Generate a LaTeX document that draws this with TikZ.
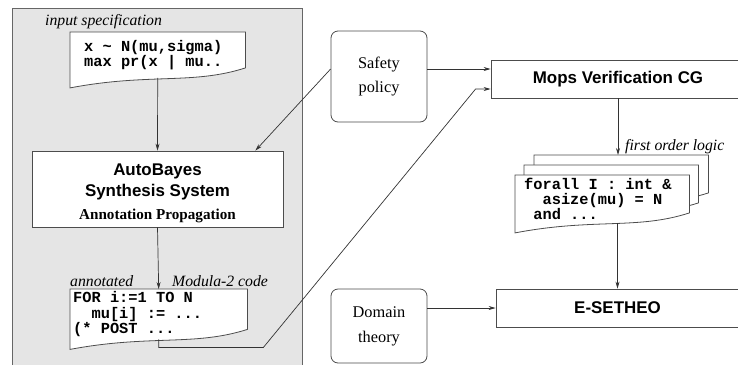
\documentclass[tikz,border=0pt]{standalone}
\usepackage{fontspec}
\setmainfont{Liberation Serif}
\setsansfont{Liberation Sans}
\setmonofont{Liberation Mono}
\usetikzlibrary{arrows.meta,calc}
\pgfdeclarelayer{panel}
\pgfdeclarelayer{paper}
\pgfsetlayers{panel,paper,main}
% one character wide gap in the code lines
\newcommand{\gap}{\phantom{x}}
\tikzset{
    box/.style={draw=black!70, line width=0.8bp, fill=white, inner sep=0pt},
    bigbox/.style={box, minimum height=38bp, font=\sffamily\bfseries\fontsize{17}{24}\selectfont},
    roundbox/.style={box, rounded corners=7bp, align=center, minimum width=96bp,
        font=\fontsize{16.4}{25}\selectfont},
    doc/.style={inner ysep=0pt, align=left, font=\ttfamily\bfseries\fontsize{15.4}{15.5}\selectfont},
    paper/.style={draw=black!70, line width=0.8bp, fill=white},
    note/.style={inner sep=0pt, font=\itshape\fontsize{15.8}{18}\selectfont},
    flow/.style={draw=black!80, line width=0.7bp, -{Stealth[length=7bp,width=4bp]}},
}
% sheet of paper with a wavy lower edge, drawn behind the node #1
\newcommand{\paperoutline}[1]{%
    \begin{pgfonlayer}{paper}
    \filldraw[paper] (#1.north west) -- (#1.north east) -- ($(#1.south east)+(0,-10)$)
        .. controls ($(#1.south east)!0.3!(#1.south west)+(0,7)$)
        and ($(#1.south east)!0.55!(#1.south west)+(0,-5)$) .. ($(#1.south west)+(0,10)$) -- cycle;
    \end{pgfonlayer}}

\begin{document}
\begin{tikzpicture}[x=1bp, y=-1bp]
    \useasboundingbox (0,0) rectangle (738,364);
    \clip (0,0) rectangle (738,364);
    \begin{pgfonlayer}{panel}
        \filldraw[fill=black!10, draw=black!60, line width=1bp] (12,8) rectangle (302,380);
    \end{pgfonlayer}

    % synthesis side
    \node[note, anchor=west] (specnote) at (45,22) {input specification};
    \node[doc, anchor=north west, text width=147bp, inner xsep=14bp, minimum height=45.5bp] (spec) at (70,32)
        {x\gap\textasciitilde\gap N(mu,sigma)\\max\gap pr(x\gap|\gap mu..};
    \node[box, minimum width=251bp, minimum height=76bp] (ab) at (157.5,189) {};
    \node[inner sep=0pt, align=center, font=\sffamily\bfseries\fontsize{17}{24}\selectfont] (abtext) at (157.5,193)
        {AutoBayes\\[-3bp]Synthesis System\\[-1bp]{\rmfamily\fontsize{15.2}{24}\selectfont Annotation Propagation}};
    \node[doc, anchor=north west, text width=171bp, inner xsep=3bp, minimum height=50bp] (code) at (70,289)
        {FOR\gap i:=1\gap TO\gap N\\\gap\gap mu[i]\gap:=\gap...\\(*\gap POST\gap...};
    \node[note, anchor=west] (annnote) at (70,281) {annotated};
    \node[note, anchor=west] (modnote) at (172,281) {Modula-2 code};

    % certification side
    \node[roundbox, minimum height=91bp] (safety) at (379,76.5) {Safety\\policy};
    \node[roundbox, minimum height=74bp] (domain) at (379,326) {Domain\\theory};
    \node[bigbox, minimum width=254bp] (mops) at (618,79) {Mops Verification CG};
    \node[bigbox, minimum width=243bp] (es) at (617.5,308) {E-SETHEO};
    \node[doc, anchor=north west, text width=156bp, inner xsep=9bp, minimum width=174bp, minimum height=47.5bp] (logic) at (515,175)
        {forall\gap I\gap:\gap int\gap\&\\\gap\gap asize(mu)\gap=\gap N\\\gap and\gap...};
    \node[inner sep=0pt, minimum width=174bp, minimum height=47.5bp, anchor=north west] (logicmid) at ($(logic.north west)+(9,-10)$) {};
    \node[inner sep=0pt, minimum width=174bp, minimum height=47.5bp, anchor=north west] (logicback) at ($(logic.north west)+(19,-20)$) {};
    \node[note, anchor=west] (fonote) at (625,147) {first order logic};

    \paperoutline{spec}
    \paperoutline{code}
    \paperoutline{logicback}
    \paperoutline{logicmid}
    \paperoutline{logic}

    % connectors
    \coordinate (mopsin1) at ($(mops.west)+(0,-10)$);
    \coordinate (mopsin2) at ($(mops.west)+(0,10)$);
    \draw[flow] (spec.south) -- (ab.north);
    \draw[flow] (ab.south) -- (code.north);
    \draw[flow] (safety.east |- mopsin1) -- (mopsin1);
    \draw[flow] (safety.west |- mopsin1) -- ($(ab.north east)+(-28,0)$);
    \draw[flow] (code.south) -- ($(code.south)+(0,8)$) -- ($(code.south -| ab.east)+(-20,8)$)
        -- ($(mopsin2)+(-15,0)$) -- (mopsin2);
    \draw[flow] (mops.south) -- (mops.south |- logicback.north);
    \draw[flow] (logic.south -| es.north) -- (es.north);
    \draw[flow] (domain.east |- es.west) -- (es.west);
\end{tikzpicture}
\end{document}
